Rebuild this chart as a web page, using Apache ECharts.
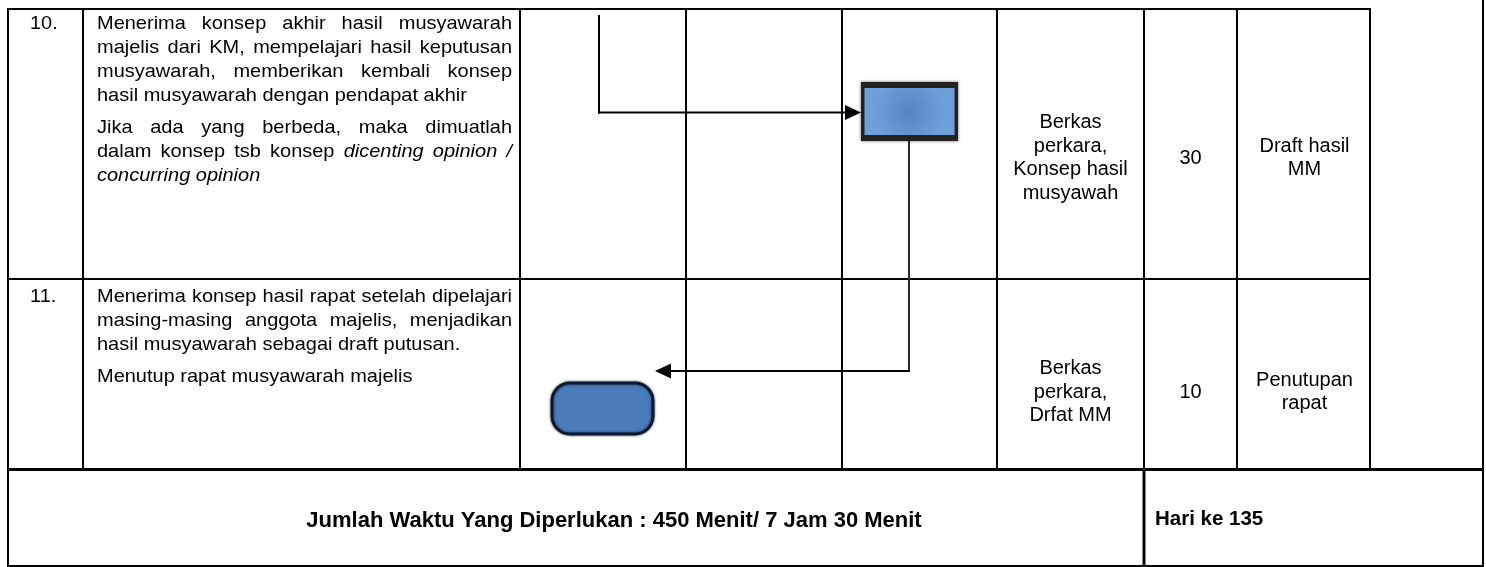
<!DOCTYPE html>
<html>
<head>
<meta charset="utf-8">
<script src="https://cdn.jsdelivr.net/npm/echarts@6/dist/echarts.min.js"></script>
<style>
html,body{margin:0;padding:0;background:#fff;}
#c{width:1486px;height:567px;}
</style>
</head>
<body>
<div id="c"></div>
<script>
// ---------------- DATA ----------------
const rowNumbers = ['10.', '11.'];
const rowActivities = [
  [
    ['Menerima konsep akhir hasil musyawarah',
     'majelis dari KM, mempelajari hasil keputusan',
     'musyawarah, memberikan kembali konsep',
     'hasil musyawarah dengan pendapat akhir'],
    ['Jika ada yang berbeda, maka dimuatlah',
     'dalam konsep tsb konsep *dicenting opinion /*',
     '*concurring opinion*']
  ],
  [
    ['Menerima konsep hasil rapat setelah dipelajari',
     'masing-masing anggota majelis, menjadikan',
     'hasil musyawarah sebagai draft putusan.'],
    ['Menutup rapat musyawarah majelis']
  ]
];
const rowDocuments = [
  ['Berkas', 'perkara,', 'Konsep hasil', 'musyawah'],
  ['Berkas', 'perkara,', 'Drfat MM']
];
const rowMinutes = [30, 10];
const rowOutputs = [
  ['Draft hasil', 'MM'],
  ['Penutupan', 'rapat']
];
const totalTimeLabel = 'Jumlah Waktu Yang Diperlukan : 450 Menit/ 7 Jam 30 Menit';
const dayLabel = 'Hari ke 135';

// ---------------- LAYOUT (positions / sizes / styles) ----------------
const W = 1486, H = 567;
const X = { left: 8, num: 83, desc: 520, lane1: 686, lane2: 842, lane3: 997, doc: 1144, min: 1237, out: 1370, right: 1483 };
const ROW_EDGES = [9, 279, 469.5];
const BOTTOM = 566;
const TEXT_L = 97, TEXT_R = 512, NUM_X = 30;
const FIRST_LINE_Y = [24, 297];
const DESC_SIZE = 18.5, DESC_SX = 1.08, DESC_PITCH = 24, PARA_GAP = 8;
const CELL_SIZE = 20, CELL_PITCH = 23.5;
const CELL_CENTER = [158, 392];
const FONT_FAMILY = '"Liberation Sans", Arial, sans-serif';
const FLOW = {
  entryX: 599, entryTop: 15, entryY: 112.5,
  proc: { x: 861, y: 82, w: 97, h: 59, inset: [3.5, 6, 3.5, 6] },
  downX: 909, returnY: 371,
  term: { x: 552, y: 383, w: 101, h: 51, r: 18 },
  arrowLen: 16, arrowHalf: 7.5
};

const mctx = document.createElement('canvas').getContext('2d');
function fontStr(size, italic, bold) {
  return (italic ? 'italic ' : '') + (bold ? 'bold ' : '') + size + 'px ' + FONT_FAMILY;
}
function measure(t, size, italic, bold) {
  mctx.font = fontStr(size, italic, bold);
  return mctx.measureText(t).width;
}
function wordsOf(line) {
  const out = []; let it = false;
  line.split(' ').forEach(tok => {
    let t = tok, italic = it, close = false;
    if (t[0] === '*') { t = t.slice(1); italic = it = true; }
    if (t.endsWith('*')) { t = t.slice(0, -1); close = true; }
    out.push({ t, italic });
    if (close) it = false;
  });
  return out;
}
function textEl(api, x, y, t, font, align, sx) {
  const p = api.coord([x, y]);
  return {
    type: 'text', x: p[0], y: p[1], scaleX: sx || 1, silent: true,
    style: { text: t, x: 0, y: 0, font: font, fill: '#000', textAlign: align || 'left', textVerticalAlign: 'middle' }
  };
}
function lineEl(api, x1, y1, x2, y2, w, color) {
  const a = api.coord([x1, y1]), b = api.coord([x2, y2]);
  return { type: 'line', silent: true, shape: { x1: a[0], y1: a[1], x2: b[0], y2: b[1] },
           style: { stroke: color || '#000', lineWidth: w, lineCap: 'butt' } };
}

// table rules: [x1, y1, x2, y2, width]
const rules = [
  [X.left - 1, ROW_EDGES[0], X.out + 1, ROW_EDGES[0], 2],
  [X.left - 1, ROW_EDGES[1], X.out + 1, ROW_EDGES[1], 2],
  [X.left - 1, ROW_EDGES[2], X.right + 1, ROW_EDGES[2], 3],
  [X.left - 1, BOTTOM, X.right + 1, BOTTOM, 2],
  [X.left, ROW_EDGES[0], X.left, BOTTOM, 2],
  [X.num, ROW_EDGES[0], X.num, ROW_EDGES[2], 2],
  [X.desc, ROW_EDGES[0], X.desc, ROW_EDGES[2], 2],
  [X.lane1, ROW_EDGES[0], X.lane1, ROW_EDGES[2], 2],
  [X.lane2, ROW_EDGES[0], X.lane2, ROW_EDGES[2], 2],
  [X.lane3, ROW_EDGES[0], X.lane3, ROW_EDGES[2], 2],
  [X.doc, ROW_EDGES[0], X.doc, ROW_EDGES[2], 2],
  [X.doc, ROW_EDGES[2], X.doc, BOTTOM, 3],
  [X.min, ROW_EDGES[0], X.min, ROW_EDGES[2], 2],
  [X.out, ROW_EDGES[0], X.out, ROW_EDGES[2], 2],
  [X.right, 0, X.right, BOTTOM + 1, 2]
];

const chart = echarts.init(document.getElementById('c'), null, { renderer: 'canvas', width: W, height: H });

function renderRule(params, api) {
  const r = rules[params.dataIndex];
  return lineEl(api, r[0], r[1], r[2], r[3], r[4]);
}

function renderActivity(params, api) {
  const i = params.dataIndex;
  const children = [];
  let y = FIRST_LINE_Y[i];
  children.push(textEl(api, NUM_X, y, rowNumbers[i], fontStr(DESC_SIZE), 'left', DESC_SX));
  rowActivities[i].forEach((para, pi) => {
    if (pi > 0) y += PARA_GAP;
    para.forEach((line, li) => {
      const words = wordsOf(line);
      const justify = li < para.length - 1 && words.length > 1;
      const widths = words.map(w => measure(w.t, DESC_SIZE, w.italic) * DESC_SX);
      const sum = widths.reduce((a, b) => a + b, 0);
      const gap = justify ? (TEXT_R - TEXT_L - sum) / (words.length - 1) : measure(' ', DESC_SIZE) * DESC_SX;
      let x = TEXT_L;
      words.forEach((w, wi) => {
        children.push(textEl(api, x, y, w.t, fontStr(DESC_SIZE, w.italic), 'left', DESC_SX));
        x += widths[wi] + gap;
      });
      y += DESC_PITCH;
    });
  });
  return { type: 'group', children };
}

function stackLines(api, children, lines, cx, cy) {
  const n = lines.length;
  lines.forEach((t, k) => {
    children.push(textEl(api, cx, cy + (k - (n - 1) / 2) * CELL_PITCH, String(t), fontStr(CELL_SIZE), 'center'));
  });
}
function renderCells(params, api) {
  const i = params.dataIndex;
  const cy = CELL_CENTER[i];
  const children = [];
  stackLines(api, children, rowDocuments[i], (X.lane3 + X.doc) / 2, cy);
  stackLines(api, children, [rowMinutes[i]], (X.doc + X.min) / 2, cy);
  stackLines(api, children, rowOutputs[i], (X.min + X.out) / 2 + 1, cy);
  return { type: 'group', children };
}

function tri(api, pts) {
  return { type: 'polygon', silent: true, shape: { points: pts.map(p => api.coord(p)) }, style: { fill: '#000' } };
}
function renderFlow(params, api) {
  const F = FLOW, P = F.proc, T = F.term;
  const c = [];
  c.push(lineEl(api, F.entryX, F.entryTop, F.entryX, F.entryY + 1, 2));
  c.push(lineEl(api, F.entryX - 1, F.entryY, P.x - F.arrowLen + 1, F.entryY, 2));
  c.push(tri(api, [[P.x - F.arrowLen, F.entryY - F.arrowHalf], [P.x, F.entryY], [P.x - F.arrowLen, F.entryY + F.arrowHalf]]));
  const o = api.coord([P.x, P.y]);
  c.push({ type: 'rect', silent: true, shape: { x: o[0], y: o[1], width: P.w, height: P.h },
           style: { fill: '#222', shadowBlur: 3, shadowColor: 'rgba(0,0,0,0.6)' } });
  const ii = api.coord([P.x + P.inset[0], P.y + P.inset[1]]);
  c.push({ type: 'rect', silent: true,
           shape: { x: ii[0], y: ii[1], width: P.w - P.inset[0] - P.inset[2], height: P.h - P.inset[1] - P.inset[3] },
           style: { fill: { type: 'radial', x: 0.5, y: 0.5, r: 0.75,
                            colorStops: [{ offset: 0, color: '#5385c4' }, { offset: 1, color: '#6e9fdb' }] } } });
  c.push(lineEl(api, F.downX, P.y + P.h, F.downX, F.returnY + 1, 2, '#2a2a2a'));
  c.push(lineEl(api, F.downX + 1, F.returnY, T.x + T.w + 1 + F.arrowLen - 1, F.returnY, 2));
  const tipX = T.x + T.w + 2;
  c.push(tri(api, [[tipX + F.arrowLen, F.returnY - F.arrowHalf], [tipX, F.returnY], [tipX + F.arrowLen, F.returnY + F.arrowHalf]]));
  const t0 = api.coord([T.x, T.y]);
  c.push({ type: 'rect', silent: true, shape: { x: t0[0], y: t0[1], width: T.w, height: T.h, r: T.r },
           style: { fill: '#4a7bbb', stroke: '#0c1930', lineWidth: 3, shadowBlur: 3, shadowColor: 'rgba(0,0,0,0.6)' } });
  return { type: 'group', children: c };
}

function renderFooter(params, api) {
  const cy = 520.5;
  return { type: 'group', children: [
    textEl(api, 614, cy, totalTimeLabel, fontStr(22, false, true), 'center'),
    textEl(api, 1155, cy - 1, dayLabel, fontStr(20.5, false, true), 'left')
  ] };
}

const base = { type: 'custom', silent: true, clip: false, animation: false };
chart.setOption({
  animation: false,
  backgroundColor: '#fff',
  grid: { left: 0, right: 0, top: 0, bottom: 0 },
  xAxis: { type: 'value', min: 0, max: W, show: false },
  yAxis: { type: 'value', min: 0, max: H, inverse: true, show: false },
  series: [
    Object.assign({}, base, { name: 'rules', data: rules.map(r => [r[0], r[1]]), renderItem: renderRule }),
    Object.assign({}, base, { name: 'activities', data: rowNumbers.map((n, i) => [TEXT_L, FIRST_LINE_Y[i]]), renderItem: renderActivity }),
    Object.assign({}, base, { name: 'cells', data: rowMinutes.map((m, i) => [X.doc, ROW_EDGES[i]]), renderItem: renderCells }),
    Object.assign({}, base, { name: 'flow', data: [[FLOW.entryX, FLOW.entryY]], renderItem: renderFlow }),
    Object.assign({}, base, { name: 'footer', data: [[614, 520]], renderItem: renderFooter })
  ]
});
</script>
</body>
</html>
